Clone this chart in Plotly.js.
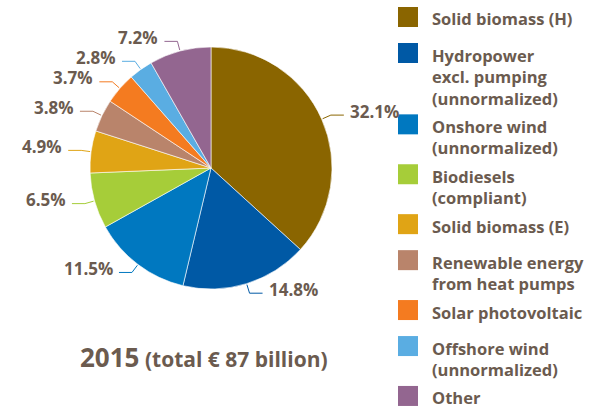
<!DOCTYPE html>
<html>
<head>
<meta charset="utf-8">
<script src="https://cdn.plot.ly/plotly-3.0.1.min.js"></script>
<style>html,body{margin:0;padding:0;background:#fff;}#chart{width:591px;height:408px;}</style>
</head>
<body>
<div id="chart"></div>
<script>
// ---- data ----
const categories = [
  "Solid biomass (H)",
  "Hydropower<br>excl. pumping<br>(unnormalized)",
  "Onshore wind<br>(unnormalized)",
  "Biodiesels<br>(compliant)",
  "Solid biomass (E)",
  "Renewable energy<br>from heat pumps",
  "Solar photovoltaic",
  "Offshore wind<br>(unnormalized)",
  "Other"
];
const values = [32.1, 14.8, 11.5, 6.5, 4.9, 3.8, 3.7, 2.8, 7.2];
const colors = ["#8a6500", "#0059a5", "#0078c0", "#a6cd39", "#e0a415", "#b9846b", "#f47b20", "#5aade2", "#936690"];
const titleYear = "2015";
const titleRest = "(total € 87 billion)";

// ---- layout helpers ----
const W = 591, H = 408;
const TXT = "#6b5b4f";
const FONT = "Open Sans";
const px = x => x / W;
const py = y => 1 - y / H;

const cx = 211, cy = 168, R = 121;
const domain = { x: [px(cx - R), px(cx + R)], y: [py(cy + R), py(cy - R)] };

const shapes = [];
const annotations = [];

// leader lines + value labels derived from data
const total = values.reduce((a, b) => a + b, 0);
let cum = 0;
values.forEach((v, i) => {
  const a = (cum + v / 2) / total * 2 * Math.PI;
  cum += v;
  const s = Math.sin(a), c = Math.cos(a);
  const sx = cx + (R + 1) * s, sy = cy - (R + 1) * c;
  const ex = cx + (R + 10) * s, ey = cy - (R + 10) * c;
  const dir = s >= 0 ? 1 : -1;
  const hx = ex + dir * 13;
  shapes.push({
    type: "path", xref: "paper", yref: "paper",
    path: `M${px(sx)},${py(sy)} L${px(ex)},${py(ey)} L${px(hx)},${py(ey)}`,
    line: { color: colors[i], width: 1 }
  });
  annotations.push({
    xref: "paper", yref: "paper",
    x: px(hx + dir * 4), y: py(ey - 4),
    xanchor: dir > 0 ? "left" : "right", yanchor: "middle",
    text: v.toFixed(1) + "%", showarrow: false,
    font: { family: FONT, size: 17, color: TXT, weight: 700 }
  });
});

// custom legend
const LSIZE = 16.5;
const PITCH = LSIZE * 1.3;
let ly = 7;
categories.forEach((cat, i) => {
  const n = cat.split("<br>").length;
  shapes.push({
    type: "rect", xref: "paper", yref: "paper",
    x0: px(398), x1: px(418), y0: py(ly + 20), y1: py(ly),
    fillcolor: colors[i], line: { width: 0 }
  });
  annotations.push({
    xref: "paper", yref: "paper",
    x: px(431), y: py(ly - 0.5), xanchor: "left", yanchor: "top", align: "left",
    text: cat, showarrow: false, borderpad: 0,
    font: { family: FONT, size: LSIZE, color: TXT, weight: 700 }
  });
  ly += n > 1 ? n * PITCH + 7 : 36;
});

// title
annotations.push({
  xref: "paper", yref: "paper", x: px(204), y: py(357),
  xanchor: "center", yanchor: "middle", showarrow: false,
  text: `<span style="font-size:26px">${titleYear}</span> ${titleRest}`,
  font: { family: FONT, size: 21, color: TXT, weight: 700 }
});

const trace = {
  type: "pie",
  values: values,
  labels: categories,
  sort: false,
  direction: "clockwise",
  rotation: 0,
  textinfo: "none",
  hoverinfo: "label+value",
  marker: { colors: colors, line: { color: "#ffffff", width: 0.6 } },
  domain: domain,
  showlegend: false
};

Plotly.newPlot("chart", [trace], {
  width: W, height: H,
  margin: { l: 0, r: 0, t: 0, b: 0 },
  paper_bgcolor: "#ffffff",
  showlegend: false,
  shapes: shapes,
  annotations: annotations
}, { displayModeBar: false, staticPlot: true });
</script>
</body>
</html>
